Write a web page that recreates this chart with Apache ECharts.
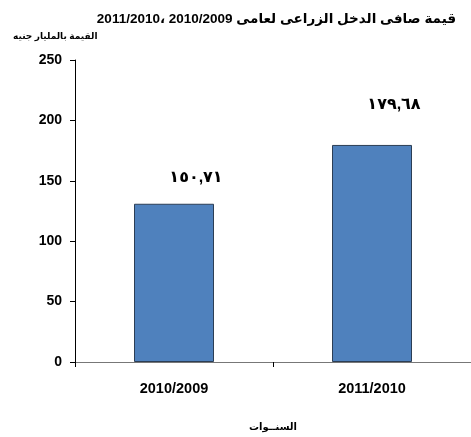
<!DOCTYPE html>
<html>
<head>
<meta charset="utf-8">
<script src="https://cdn.jsdelivr.net/npm/echarts@6/dist/echarts.min.js"></script>
<style>
  html, body { margin: 0; padding: 0; background: #fff; }
  #chart { width: 471px; height: 437px; }
</style>
</head>
<body>
<div id="chart"></div>
<script>
// years on the x axis
const years = ['2010/2009', '2011/2010']
// bar heights as drawn (billion EGP)
const values = [131, 179.68]
// printed labels above the bars
const barLabels = ['١٥٠,٧١', '١٧٩,٦٨']
const yTicks = [0, 50, 100, 150, 200, 250]

const font = '"Liberation Sans", Arial, "DejaVu Sans", sans-serif'
const labelOffsets = [[22, -13], [22, -27]]

const chart = echarts.init(document.getElementById('chart'))
chart.setOption({
  animation: false,
  title: [
    {
      text: 'قيمة صافى الدخل الزراعى لعامى 2010/2009 ،2011/2010',
      right: 10,
      top: 7,
      textStyle: { fontFamily: font, fontSize: 13.5, fontWeight: 'bold', color: '#000' }
    },
    {
      text: 'القيمة بالمليار جنيه',
      left: 8,
      top: 27,
      textStyle: { fontFamily: font, fontSize: 9, fontWeight: 'bold', color: '#000' }
    }
  ],
  grid: { left: 75, right: 0, top: 60, bottom: 74 },
  xAxis: {
    type: 'category',
    data: years,
    name: 'السنــوات',
    nameLocation: 'middle',
    nameGap: 60,
    nameTextStyle: { fontFamily: font, fontSize: 10, fontWeight: 'bold', color: '#000' },
    axisLine: { lineStyle: { color: '#777', width: 1 } },
    axisTick: { show: true, alignWithLabel: false, length: 5, lineStyle: { color: '#000' } },
    axisLabel: { fontFamily: font, fontSize: 14.5, fontWeight: 'bold', color: '#000', margin: 19 }
  },
  yAxis: {
    type: 'value',
    min: yTicks[0],
    max: yTicks[yTicks.length - 1],
    interval: 50,
    splitLine: { show: false },
    axisLine: { show: true, lineStyle: { color: '#000', width: 1 } },
    axisTick: { show: true, length: 5, lineStyle: { color: '#000' } },
    axisLabel: { fontFamily: font, fontSize: 14, fontWeight: 'bold', color: '#000', margin: 13 }
  },
  series: [{
    type: 'bar',
    barWidth: 80,
    data: values.map((v, i) => ({
      value: v,
      label: {
        show: true,
        position: 'top',
        offset: labelOffsets[i],
        formatter: barLabels[i],
        fontFamily: font,
        fontSize: 16,
        fontWeight: 'bold',
        color: '#000'
      }
    })),
    itemStyle: { color: '#4F81BD', borderColor: '#2c3e55', borderWidth: 1 }
  }]
})
</script>
</body>
</html>
